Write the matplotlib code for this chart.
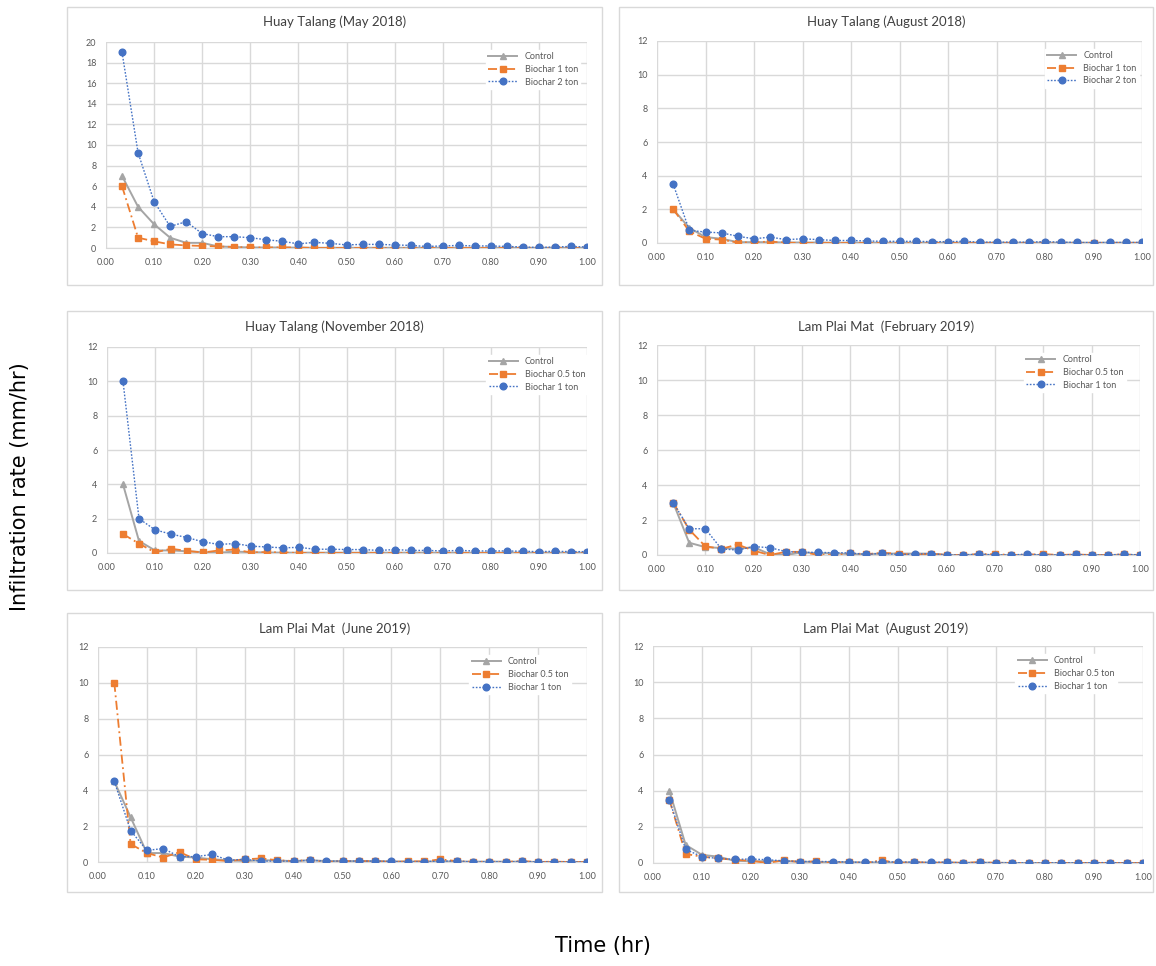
import numpy as np
import matplotlib
matplotlib.use('Agg')
import matplotlib.pyplot as plt
from matplotlib.patches import Rectangle

# Zeitachse: 30 Messpunkte alle 2 Minuten (in Stunden)
time_hr = np.arange(1, 31) / 30

titles = ['Huay Talang (May 2018)', 'Huay Talang (August 2018)',
          'Huay Talang (November 2018)', 'Lam Plai Mat  (February 2019)',
          'Lam Plai Mat  (June 2019)', 'Lam Plai Mat  (August 2019)']

labels_a = ['Control', 'Biochar 1 ton', 'Biochar 2 ton']
labels_b = ['Control', 'Biochar 0.5 ton', 'Biochar 1 ton']

# Huay Talang (May 2018)
may18_control = [7, 4, 2.3, 1.0, 0.5, 0.5, 0.15, 0.1, 0.05, 0.05, 0.05, 0.03, 0.02, 0.02, 0.02,
                 0.02, 0.02, 0.02, 0.02, 0.02, 0.02, 0.02, 0.02, 0.02, 0.02, 0.02, 0.02, 0.02, 0.02, 0.02]
may18_bc1 = [6, 1.0, 0.65, 0.35, 0.25, 0.2, 0.15, 0.1, 0.05, 0.05, 0.05, 0.05, 0, 0, 0,
             0, 0, 0, 0, 0, 0, 0, 0, 0, 0, 0, 0, 0, 0, 0]
may18_bc2 = [19, 9.25, 4.5, 2.1, 2.55, 1.4, 1.1, 1.1, 1.0, 0.8, 0.65, 0.4, 0.55, 0.45, 0.3,
             0.35, 0.35, 0.3, 0.25, 0.15, 0.2, 0.25, 0.2, 0.2, 0.15, 0.1, 0.05, 0.1, 0.15, 0.1]

# Huay Talang (August 2018)
aug18_control = [2.0, 0.9, 0.35, 0.25, 0.05, 0.05, 0.05, 0.03, 0.03, 0.03, 0.02, 0.02, 0.02, 0.02, 0.02,
                 0.02, 0.02, 0.02, 0.02, 0.02, 0.02, 0.02, 0.02, 0.02, 0.02, 0.02, 0.02, 0.02, 0.02, 0.02]
aug18_bc1 = [2.0, 0.7, 0.25, 0.2, 0.02, 0.05, 0.08, 0.02, 0, 0, 0, 0, 0, 0, 0,
             0, 0, 0, 0, 0, 0, 0, 0, 0, 0, 0, 0, 0, 0, 0]
aug18_bc2 = [3.5, 0.75, 0.65, 0.6, 0.4, 0.25, 0.35, 0.2, 0.25, 0.2, 0.15, 0.15, 0.12, 0.1, 0.1,
             0.1, 0.08, 0.08, 0.1, 0.05, 0.05, 0.05, 0.05, 0.08, 0.05, 0.03, 0.02, 0.03, 0.03, 0.03]

# Huay Talang (November 2018)
nov18_control = [4, 0.7, 0.15, 0.15, 0.1, 0.05, 0.02, 0.08, 0.05, 0.03, 0.02, 0.02, 0.02, 0.02, 0.02,
                 0.02, 0.02, 0.02, 0.02, 0.02, 0.02, 0.02, 0.02, 0.02, 0.02, 0.02, 0.02, 0.02, 0.02, 0.02]
nov18_bc05 = [1.1, 0.55, 0.03, 0.25, 0.12, 0.03, 0.15, 0.2, 0.03, 0.05, 0.03, 0, 0, 0, 0,
              0, 0, 0, 0, 0, 0, 0, 0, 0, 0, 0, 0, 0, 0, 0]
nov18_bc1 = [10, 2.0, 1.35, 1.1, 0.9, 0.65, 0.5, 0.55, 0.4, 0.35, 0.3, 0.33, 0.22, 0.22, 0.2,
             0.2, 0.15, 0.2, 0.15, 0.15, 0.12, 0.15, 0.12, 0.12, 0.12, 0.1, 0.08, 0.1, 0.08, 0.08]

# Lam Plai Mat (February 2019)
feb19_control = [3.0, 0.7, 0.45, 0.4, 0.35, 0.45, 0.05, 0.0, 0.15, 0.1, 0.1, 0.05, 0.05, 0.08, 0.08,
                 0.08, 0.08, 0.0, 0.0, 0.02, 0.0, 0.0, 0.0, 0.0, 0.0, 0.0, 0.0, 0.0, 0.0, 0.0]
feb19_bc05 = [3.0, 1.45, 0.5, 0.35, 0.6, 0.25, 0.0, 0.18, 0.18, 0.0, 0.0, 0.1, 0.05, 0.12, 0.08,
              0.0, 0.08, 0.0, 0.0, 0.05, 0.05, 0.0, 0.02, 0.05, 0.0, 0.03, 0.0, 0.0, 0.03, 0.0]
feb19_bc1 = [3.0, 1.5, 1.5, 0.35, 0.28, 0.48, 0.42, 0.2, 0.15, 0.15, 0.13, 0.12, 0.03, 0.1, 0.02,
             0.05, 0.08, 0.0, 0.0, 0.05, 0.0, 0.0, 0.05, 0.0, 0.0, 0.03, 0.0, 0.0, 0.05, 0.0]

# Lam Plai Mat (June 2019)
jun19_control = [4.5, 2.5, 0.5, 0.5, 0.3, 0.25, 0.15, 0.1, 0.05, 0.1, 0.08, 0.05, 0.1, 0.05, 0.05,
                 0.05, 0.05, 0.03, 0.03, 0.03, 0.03, 0.03, 0.02, 0.02, 0.02, 0.02, 0.0, 0.0, 0.0, 0.0]
jun19_bc05 = [10, 1.0, 0.5, 0.25, 0.55, 0.15, 0.12, 0.05, 0.15, 0.2, 0.1, 0.05, 0.12, 0.0, 0.05,
              0.05, 0.05, 0.0, 0.03, 0.03, 0.15, 0.05, 0.0, 0.02, 0.0, 0.05, 0.0, 0.02, 0.0, 0.0]
jun19_bc1 = [4.5, 1.75, 0.65, 0.75, 0.3, 0.3, 0.42, 0.1, 0.15, 0.05, 0.05, 0.05, 0.1, 0.05, 0.05,
             0.05, 0.05, 0.03, 0.0, 0.02, 0.05, 0.05, 0.0, 0.02, 0.0, 0.03, 0.0, 0.02, 0.0, 0.0]

# Lam Plai Mat (August 2019)
aug19_control = [4.0, 1.0, 0.45, 0.35, 0.12, 0.1, 0.1, 0.1, 0.08, 0.05, 0.05, 0.05, 0.03, 0.03, 0.03,
                 0.03, 0.02, 0.02, 0.02, 0.02, 0.02, 0.0, 0.0, 0.0, 0.0, 0.0, 0.0, 0.0, 0.0, 0.0]
aug19_bc05 = [3.5, 0.5, 0.35, 0.25, 0.18, 0.12, 0.0, 0.15, 0.05, 0.1, 0.0, 0.05, 0.0, 0.15, 0.0,
              0.05, 0.0, 0.03, 0.0, 0.05, 0.0, 0.0, 0.0, 0.0, 0.0, 0.0, 0.0, 0.0, 0.0, 0.0]
aug19_bc1 = [3.5, 0.75, 0.35, 0.25, 0.2, 0.22, 0.18, 0.12, 0.08, 0.08, 0.08, 0.05, 0.03, 0.08, 0.05,
             0.05, 0.03, 0.05, 0.0, 0.03, 0.0, 0.02, 0.0, 0.0, 0.02, 0.0, 0.02, 0.02, 0.0, 0.0]

panels = [
    (may18_control, may18_bc1, may18_bc2, labels_a, 20),
    (aug18_control, aug18_bc1, aug18_bc2, labels_a, 12),
    (nov18_control, nov18_bc05, nov18_bc1, labels_b, 12),
    (feb19_control, feb19_bc05, feb19_bc1, labels_b, 12),
    (jun19_control, jun19_bc05, jun19_bc1, labels_b, 12),
    (aug19_control, aug19_bc05, aug19_bc1, labels_b, 12),
]

W, H = 1156, 966
fig = plt.figure(figsize=(W / 100, H / 100), dpi=100)

# Layout in Pixel: Achsenbereich (x0, x1, y_oben, y_unten), Rahmen, Titelhöhe, Legende
axes_px = [(106, 587, 42, 248), (657, 1142, 41, 243),
           (107, 587, 347, 553), (657, 1140, 345, 555),
           (98, 587, 647, 862), (653, 1143, 646, 863)]
frame_px = [(67, 602, 7, 285), (619, 1153, 7, 285),
            (67, 602, 311, 590), (619, 1153, 311, 590),
            (67, 602, 613, 892), (619, 1153, 612, 892)]
title_y = [22, 22, 327, 327, 629, 629]
legend_x = [0.78, 0.79, 0.78, 0.75, 0.75, 0.73]

grey, orange, blue = '#A5A5A5', '#ED7D31', '#4472C4'
tick_col = '#595959'
grid_col = '#D9D9D9'
font = 'Lato'

for i, (ctrl, bca, bcb, labs, ymax) in enumerate(panels):
    x0, x1, yt, yb = axes_px[i]
    ax = fig.add_axes([x0 / W, 1 - yb / H, (x1 - x0) / W, (yb - yt) / H])

    ax.plot(time_hr, ctrl, color=grey, lw=1.4, marker='^', ms=4, label=labs[0], zorder=3)
    ax.plot(time_hr, bca, color=orange, lw=1.3, ls=(0, (5, 2, 1, 2)), marker='s', ms=4.5,
            label=labs[1], zorder=4)
    ax.plot(time_hr, bcb, color=blue, lw=1.0, ls=(0, (1.2, 1.2)), marker='o', ms=4.8,
            label=labs[2], zorder=5)

    ax.set_xlim(0, 1)
    ax.set_ylim(0, ymax)
    ax.set_xticks(np.arange(0, 1.01, 0.1))
    ax.set_xticklabels(['%.2f' % v for v in np.arange(0, 1.01, 0.1)])
    ax.set_yticks(np.arange(0, ymax + 1, 2))
    ax.grid(True, color=grid_col, lw=1.0)
    ax.set_axisbelow(True)
    for s in ['top', 'right', 'left']:
        ax.spines[s].set_visible(False)
    ax.spines['bottom'].set_color(grid_col)
    ax.tick_params(length=0, labelsize=6.5, labelcolor=tick_col, pad=7)
    for t in ax.get_xticklabels() + ax.get_yticklabels():
        t.set_fontfamily(font)

    leg = ax.legend(loc='upper left', bbox_to_anchor=(legend_x[i], 0.985), frameon=True,
                    fancybox=False, edgecolor='white', framealpha=1, handlelength=3.2,
                    borderpad=0.3, labelspacing=0.4, prop={'family': font, 'size': 6.5})
    for t in leg.get_texts():
        t.set_color(tick_col)

    fx0, fx1, fyt, fyb = frame_px[i]
    fig.patches.append(Rectangle((fx0 / W, 1 - fyb / H), (fx1 - fx0) / W, (fyb - fyt) / H,
                                 transform=fig.transFigure, fill=False,
                                 edgecolor=grid_col, lw=1.0))
    fig.text((fx0 + fx1) / 2 / W, 1 - title_y[i] / H, titles[i], ha='center', va='center',
             fontsize=9.5, family=font, color='#404040')

fig.text(20 / W, 1 - 487 / H, 'Infiltration rate (mm/hr)', rotation=90, ha='center',
         va='center', fontsize=15, color='black')
fig.text(603 / W, 1 - 946 / H, 'Time (hr)', ha='center', va='center', fontsize=15,
         color='black')

plt.savefig('out.png', dpi=100)
